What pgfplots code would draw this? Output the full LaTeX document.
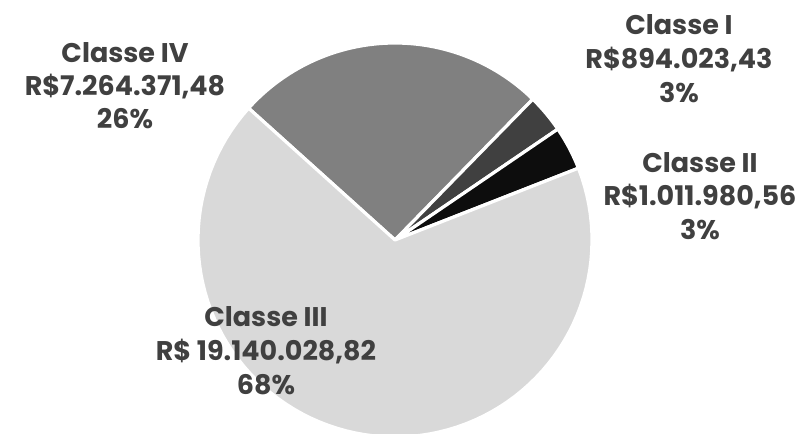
\documentclass[border=0pt]{standalone}
\usepackage{pgfplots}
\usepackage{pgfplotstable}
\pgfplotsset{compat=1.18}
\usepackage{fontspec}
\setmainfont{Poppins}[BoldFont={Poppins Bold}]
\definecolor{txt}{HTML}{404040}
\definecolor{cI}{HTML}{404040}
\definecolor{cII}{HTML}{0D0D0D}
\definecolor{cIII}{HTML}{D9D9D9}
\definecolor{cIV}{HTML}{808080}
% values in millions of R$
\pgfplotstableread{
cls value
IV  7.26437148
I   0.89402343
II  1.01198056
III 19.14002882
}\pie
\begin{document}
\begin{tikzpicture}[x=1pt,y=1pt]
\useasboundingbox (0,0) rectangle (807,434);
\clip (0,0) rectangle (807,434);
\pgfplotstablegetelem{0}{value}\of\pie \let\vIV\pgfplotsretval
\pgfplotstablegetelem{1}{value}\of\pie \let\vI\pgfplotsretval
\pgfplotstablegetelem{2}{value}\of\pie \let\vII\pgfplotsretval
\pgfplotstablegetelem{3}{value}\of\pie \let\vIII\pgfplotsretval
\pgfmathsetmacro\tot{\vI+\vII+\vIII+\vIV}
\pgfmathsetmacro\aA{138}
\pgfmathsetmacro\aB{\aA-360*\vIV/\tot}
\pgfmathsetmacro\aC{\aB-360*\vI/\tot}
\pgfmathsetmacro\aD{\aC-360*\vII/\tot}
\pgfmathsetmacro\aE{\aA-360}
\begin{axis}[
  at={(0,0)}, anchor=south west,
  width=807pt, height=434pt, scale only axis,
  xmin=0, xmax=807, ymin=0, ymax=434,
  hide axis, clip=true,
  samples=90, variable=\t,
]
\addplot[fill=cIV, draw=white, line width=3.2pt, line join=round, domain=\aB:\aA] ({395+197*cos(\t)},{194+197*sin(\t)}) -- (axis cs:395,194) -- cycle;
\addplot[fill=cI, draw=white, line width=3.2pt, line join=round, domain=\aC:\aB] ({395+197*cos(\t)},{194+197*sin(\t)}) -- (axis cs:395,194) -- cycle;
\addplot[fill=cII, draw=white, line width=3.2pt, line join=round, domain=\aD:\aC] ({395+197*cos(\t)},{194+197*sin(\t)}) -- (axis cs:395,194) -- cycle;
\addplot[fill=cIII, draw=white, line width=3.2pt, line join=round, domain=\aE:\aD] ({395+197*cos(\t)},{194+197*sin(\t)}) -- (axis cs:395,194) -- cycle;
\end{axis}
\begin{scope}[every node/.style={font=\fontsize{27}{34}\selectfont\bfseries, text=txt, anchor=base, inner sep=0pt}]
\node at (125,434-63) {Classe IV};
\node at (125,434-96) {R\$7.264.371,48};
\node at (125,434-129) {26\%};
\node at (679,434-35) {Classe I};
\node at (679,434-69) {R\$894.023,43};
\node at (679,434-103) {3\%};
\node at (700,434-173) {Classe II};
\node at (700,434-206) {R\$1.011.980,56};
\node at (700,434-240) {3\%};
\node at (266,434-327) {Classe III};
\node at (266,434-361) {R\$ 19.140.028,82};
\node at (266,434-395) {68\%};
\end{scope}
\end{tikzpicture}
\end{document}
